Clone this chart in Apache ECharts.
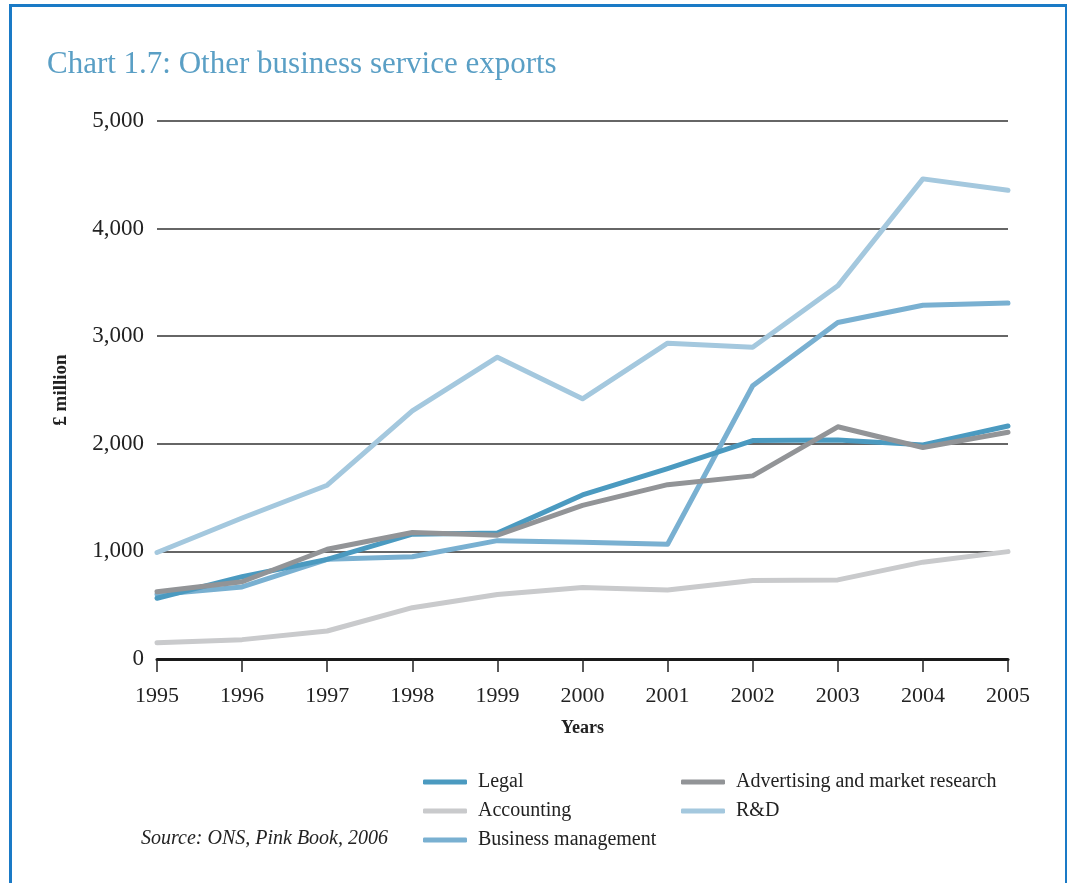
<!DOCTYPE html>
<html>
<head>
<meta charset="utf-8">
<script src="https://cdn.jsdelivr.net/npm/echarts@6/dist/echarts.min.js"></script>
<style>
  html, body { margin: 0; padding: 0; background: #fff; }
  #frame { position: absolute; left: 9px; top: 4px; width: 1053px; height: 900px;
           border-left: 3px solid #1a7ac6; border-top: 3px solid #1a7ac6; border-right: 3px solid #1a7ac6; }
  #chart { position: absolute; left: 0; top: 0; width: 1067px; height: 883px; }
</style>
</head>
<body>
<div id="frame"></div>
<div id="chart"></div>
<script>
// Other business service exports, £ million, 1995–2005
const years = ['1995','1996','1997','1998','1999','2000','2001','2002','2003','2004','2005'];
const legal        = [565, 765, 926, 1160, 1170, 1525, 1770, 2030, 2035, 1990, 2165];
const accounting   = [150, 180, 260, 477, 600, 665, 641, 730, 735, 900, 998];
const businessMgmt = [600, 670, 926, 951, 1100, 1085, 1066, 2540, 3128, 3287, 3308];
const advertising  = [625, 718, 1020, 1175, 1150, 1428, 1620, 1702, 2158, 1966, 2108];
const rnd          = [990, 1310, 1615, 2305, 2805, 2418, 2935, 2897, 3468, 4462, 4356];
const yTicks = [0, 1000, 2000, 3000, 4000, 5000];

const serif = '"Liberation Serif", "DejaVu Serif", serif';
const colors = {
  'Legal': '#4b9ac0',
  'Accounting': '#c9cacc',
  'Business management': '#79b0d1',
  'Advertising and market research': '#929497',
  'R&D': '#a4c8de'
};

function lineSeries(name, data, z) {
  return {
    name: name, type: 'line', data: data, z: z,
    symbol: 'none', smooth: false,
    lineStyle: { width: 5, color: colors[name], cap: 'round', join: 'round' },
    itemStyle: { color: colors[name] },
    emphasis: { disabled: true }
  };
}

const chart = echarts.init(document.getElementById('chart'), null, { renderer: 'canvas' });
chart.setOption({
  animation: false,
  backgroundColor: 'transparent',
  title: {
    text: 'Chart 1.7: Other business service exports',
    left: 42, top: 44,
    textStyle: { fontFamily: serif, fontSize: 31, fontWeight: 'normal', color: '#5a9fc5' }
  },
  grid: { left: 157, right: 59, top: 121, bottom: 224, containLabel: false },
  xAxis: {
    type: 'category', data: years, boundaryGap: false,
    name: 'Years', nameLocation: 'middle', nameGap: 60,
    nameTextStyle: { fontFamily: serif, fontSize: 18, fontWeight: 'bold', color: '#222' },
    axisLine: { show: true, lineStyle: { color: '#1a1a1a', width: 3 } },
    axisTick: { show: true, alignWithLabel: true, length: 13, lineStyle: { color: '#222', width: 1.5 } },
    axisLabel: { fontFamily: serif, fontSize: 22, color: '#222', margin: 26 },
    splitLine: { show: false }
  },
  yAxis: {
    type: 'value', min: 0, max: 5000, interval: 1000,
    name: '£ million', nameLocation: 'middle', nameGap: 86, nameRotate: 90,
    nameTextStyle: { fontFamily: serif, fontSize: 19, fontWeight: 'bold', color: '#222' },
    axisLine: { show: false }, axisTick: { show: false },
    axisLabel: {
      fontFamily: serif, fontSize: 23, color: '#222', margin: 13,
      formatter: v => yTicks.includes(v) ? v.toLocaleString('en-GB') : ''
    },
    splitLine: { show: true, lineStyle: { color: '#333', width: 1.5 } }
  },
  legend: [
    {
      data: ['Legal', 'Accounting', 'Business management'],
      orient: 'vertical', left: 418, top: 767, itemGap: 9,
      itemWidth: 44, itemHeight: 5, icon: 'roundRect',
      textStyle: { fontFamily: serif, fontSize: 20, color: '#222', padding: [0, 0, 0, 6] },
      selectedMode: false
    },
    {
      data: ['Advertising and market research', 'R&D'],
      orient: 'vertical', left: 676, top: 767, itemGap: 9,
      itemWidth: 44, itemHeight: 5, icon: 'roundRect',
      textStyle: { fontFamily: serif, fontSize: 20, color: '#222', padding: [0, 0, 0, 6] },
      selectedMode: false
    }
  ],
  graphic: [{
    type: 'text', left: 141, top: 829,
    style: { text: 'Source: ONS, Pink Book, 2006', font: 'italic 20px ' + serif, fill: '#222' }
  }],
  series: [
    lineSeries('Accounting', accounting, 2),
    lineSeries('R&D', rnd, 3),
    lineSeries('Business management', businessMgmt, 4),
    lineSeries('Legal', legal, 5),
    lineSeries('Advertising and market research', advertising, 6)
  ]
});
</script>
</body>
</html>
